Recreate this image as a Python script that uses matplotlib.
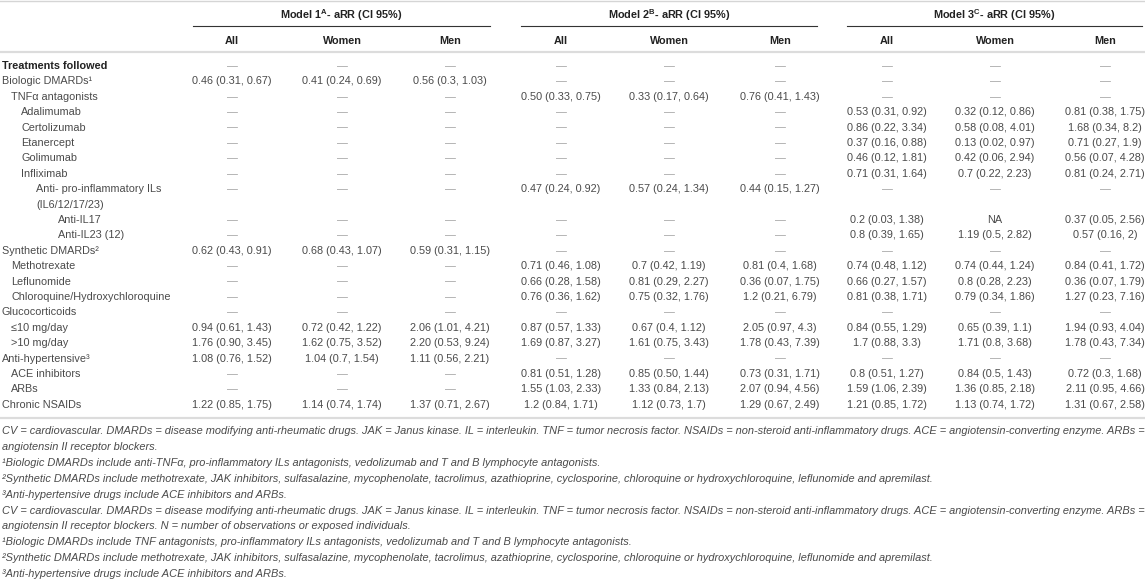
import matplotlib.pyplot as plt

plt.rcParams['font.family'] = ['Liberation Sans', 'DejaVu Sans']
plt.rcParams['mathtext.fontset'] = 'custom'
plt.rcParams['mathtext.rm'] = 'Liberation Sans'
plt.rcParams['mathtext.bf'] = 'Liberation Sans:bold'

D = '—'

# Table content
row_labels = ['Treatments followed', 'Biologic DMARDs¹', 'TNFα antagonists', 'Adalimumab',
              'Certolizumab', 'Etanercept', 'Golimumab', 'Infliximab',
              'Anti- pro-inflammatory ILs', '(IL6/12/17/23)', 'Anti-IL17', 'Anti-IL23 (12)',
              'Synthetic DMARDs²', 'Methotrexate', 'Leflunomide', 'Chloroquine/Hydroxychloroquine',
              'Glucocorticoids', '≤10 mg/day', '>10 mg/day', 'Anti-hypertensive³',
              'ACE inhibitors', 'ARBs', 'Chronic NSAIDs']
row_levels = [0, 0, 1, 2, 2, 2, 2, 2, 3, 3, 4, 4, 0, 1, 1, 1, 0, 1, 1, 0, 1, 1, 0]

models = ['Model 1$^{\\mathbf{A}}$- aRR (CI 95%)',
          'Model 2$^{\\mathbf{B}}$- aRR (CI 95%)',
          'Model 3$^{\\mathbf{C}}$- aRR (CI 95%)']
groups = ['All', 'Women', 'Men']

m1_all = [D, '0.46 (0.31, 0.67)', D, D, D, D, D, D, D, '', D, D, '0.62 (0.43, 0.91)', D, D, D, D,
          '0.94 (0.61, 1.43)', '1.76 (0.90, 3.45)', '1.08 (0.76, 1.52)', D, D, '1.22 (0.85, 1.75)']
m1_women = [D, '0.41 (0.24, 0.69)', D, D, D, D, D, D, D, '', D, D, '0.68 (0.43, 1.07)', D, D, D, D,
            '0.72 (0.42, 1.22)', '1.62 (0.75, 3.52)', '1.04 (0.7, 1.54)', D, D, '1.14 (0.74, 1.74)']
m1_men = [D, '0.56 (0.3, 1.03)', D, D, D, D, D, D, D, '', D, D, '0.59 (0.31, 1.15)', D, D, D, D,
          '2.06 (1.01, 4.21)', '2.20 (0.53, 9.24)', '1.11 (0.56, 2.21)', D, D, '1.37 (0.71, 2.67)']

m2_all = [D, D, '0.50 (0.33, 0.75)', D, D, D, D, D, '0.47 (0.24, 0.92)', '', D, D, D,
          '0.71 (0.46, 1.08)', '0.66 (0.28, 1.58)', '0.76 (0.36, 1.62)', D,
          '0.87 (0.57, 1.33)', '1.69 (0.87, 3.27)', D, '0.81 (0.51, 1.28)', '1.55 (1.03, 2.33)',
          '1.2 (0.84, 1.71)']
m2_women = [D, D, '0.33 (0.17, 0.64)', D, D, D, D, D, '0.57 (0.24, 1.34)', '', D, D, D,
            '0.7 (0.42, 1.19)', '0.81 (0.29, 2.27)', '0.75 (0.32, 1.76)', D,
            '0.67 (0.4, 1.12)', '1.61 (0.75, 3.43)', D, '0.85 (0.50, 1.44)', '1.33 (0.84, 2.13)',
            '1.12 (0.73, 1.7)']
m2_men = [D, D, '0.76 (0.41, 1.43)', D, D, D, D, D, '0.44 (0.15, 1.27)', '', D, D, D,
          '0.81 (0.4, 1.68)', '0.36 (0.07, 1.75)', '1.2 (0.21, 6.79)', D,
          '2.05 (0.97, 4.3)', '1.78 (0.43, 7.39)', D, '0.73 (0.31, 1.71)', '2.07 (0.94, 4.56)',
          '1.29 (0.67, 2.49)']

m3_all = [D, D, D, '0.53 (0.31, 0.92)', '0.86 (0.22, 3.34)', '0.37 (0.16, 0.88)',
          '0.46 (0.12, 1.81)', '0.71 (0.31, 1.64)', D, '', '0.2 (0.03, 1.38)', '0.8 (0.39, 1.65)', D,
          '0.74 (0.48, 1.12)', '0.66 (0.27, 1.57)', '0.81 (0.38, 1.71)', D,
          '0.84 (0.55, 1.29)', '1.7 (0.88, 3.3)', D, '0.8 (0.51, 1.27)', '1.59 (1.06, 2.39)',
          '1.21 (0.85, 1.72)']
m3_women = [D, D, D, '0.32 (0.12, 0.86)', '0.58 (0.08, 4.01)', '0.13 (0.02, 0.97)',
            '0.42 (0.06, 2.94)', '0.7 (0.22, 2.23)', D, '', 'NA', '1.19 (0.5, 2.82)', D,
            '0.74 (0.44, 1.24)', '0.8 (0.28, 2.23)', '0.79 (0.34, 1.86)', D,
            '0.65 (0.39, 1.1)', '1.71 (0.8, 3.68)', D, '0.84 (0.5, 1.43)', '1.36 (0.85, 2.18)',
            '1.13 (0.74, 1.72)']
m3_men = [D, D, D, '0.81 (0.38, 1.75)', '1.68 (0.34, 8.2)', '0.71 (0.27, 1.9)',
          '0.56 (0.07, 4.28)', '0.81 (0.24, 2.71)', D, '', '0.37 (0.05, 2.56)', '0.57 (0.16, 2)', D,
          '0.84 (0.41, 1.72)', '0.36 (0.07, 1.79)', '1.27 (0.23, 7.16)', D,
          '1.94 (0.93, 4.04)', '1.78 (0.43, 7.34)', D, '0.72 (0.3, 1.68)', '2.11 (0.95, 4.66)',
          '1.31 (0.67, 2.58)']

columns = [m1_all, m1_women, m1_men, m2_all, m2_women, m2_men, m3_all, m3_women, m3_men]

footnotes = [
    'CV = cardiovascular. DMARDs = disease modifying anti-rheumatic drugs. JAK = Janus kinase. IL = interleukin. '
    'TNF = tumor necrosis factor. NSAIDs = non-steroid anti-inflammatory drugs. ACE = angiotensin-converting enzyme. ARBs =',
    'angiotensin II receptor blockers.',
    '¹Biologic DMARDs include anti-TNFα, pro-inflammatory ILs antagonists, vedolizumab and T and B lymphocyte antagonists.',
    '²Synthetic DMARDs include methotrexate, JAK inhibitors, sulfasalazine, mycophenolate, tacrolimus, azathioprine, '
    'cyclosporine, chloroquine or hydroxychloroquine, leflunomide and apremilast.',
    '³Anti-hypertensive drugs include ACE inhibitors and ARBs.',
    'CV = cardiovascular. DMARDs = disease modifying anti-rheumatic drugs. JAK = Janus kinase. IL = interleukin. '
    'TNF = tumor necrosis factor. NSAIDs = non-steroid anti-inflammatory drugs. ACE = angiotensin-converting enzyme. ARBs =',
    'angiotensin II receptor blockers. N = number of observations or exposed individuals.',
    '¹Biologic DMARDs include TNF antagonists, pro-inflammatory ILs antagonists, vedolizumab and T and B lymphocyte antagonists.',
    '²Synthetic DMARDs include methotrexate, JAK inhibitors, sulfasalazine, mycophenolate, tacrolimus, azathioprine, '
    'cyclosporine, chloroquine or hydroxychloroquine, leflunomide and apremilast.',
    '³Anti-hypertensive drugs include ACE inhibitors and ARBs.',
]

# Layout (pixels)
W, H = 1145, 579
fig = plt.figure(figsize=(W / 100, H / 100), dpi=100)
ax = fig.add_axes([0, 0, 1, 1])
ax.set_xlim(0, W)
ax.set_ylim(H, 0)
ax.axis('off')

fs = 7.8
fs_note = 7.9
txt = '#4a4a4a'
head = '#222222'
indent = [2, 11, 21, 36, 58]
model_spans = [(193, 490), (521, 817), (847, 1142)]
col_x = [232, 342, 450, 561, 669, 780, 887, 995, 1105]
y0, dy = 66, 15.4

ax.plot([0, W], [1, 1], color='#d5d5d5', lw=1)
for (a, b), name in zip(model_spans, models):
    ax.text((a + b) / 2, 15, name, ha='center', va='center', fontsize=fs, fontweight='bold', color=head)
    ax.plot([a, b], [26, 26], color='#333333', lw=0.8)
for i, x in enumerate(col_x):
    ax.text(x, 41, groups[i % 3], ha='center', va='center', fontsize=fs, fontweight='bold', color=head)
ax.plot([0, W], [52, 52], color='#dcdcdc', lw=1.6)

for r, (lab, lev) in enumerate(zip(row_labels, row_levels)):
    y = y0 + r * dy
    ax.text(indent[lev], y, lab, ha='left', va='center', fontsize=fs,
            fontweight='bold' if r == 0 else 'normal', color=head if r == 0 else txt)
    for x, col in zip(col_x, columns):
        v = col[r]
        ax.text(x, y, v, ha='center', va='center', fontsize=fs,
                color='#a0a0a0' if v == D else txt)

ax.plot([0, W], [418, 418], color='#dcdcdc', lw=1.6)

for k, line in enumerate(footnotes):
    ax.text(2, 431 + k * 15.9, line, ha='left', va='center', fontsize=fs_note, style='italic', color=txt)

fig.savefig('out.png', dpi=100)
